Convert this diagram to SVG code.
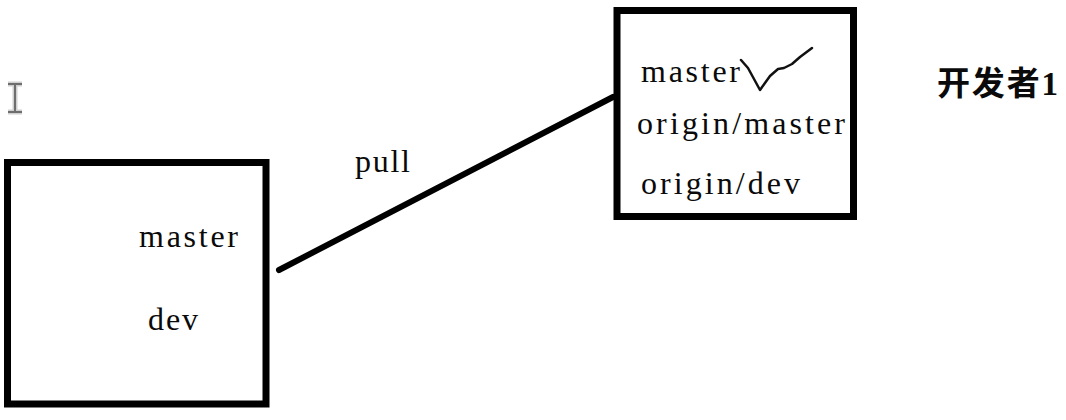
<svg xmlns="http://www.w3.org/2000/svg" width="1066" height="420" viewBox="0 0 1066 420">
  <style>
    .box { fill: #ffffff; stroke: #000000; stroke-width: 7; }
    .lbl { font-family: "Liberation Serif", "Times New Roman", serif; font-size: 32px; fill: #0a0a0a; }
    .cjk { font-family: "Liberation Serif", "Noto Sans CJK SC", serif; font-size: 33px; font-weight: bold; fill: #0a0a0a; }
    .conn { fill: none; stroke: #000000; stroke-width: 6; stroke-linecap: round; }
  </style>
  <rect x="0" y="0" width="1066" height="420" fill="#ffffff"/>

  <g id="cursor" fill="none" stroke-linecap="butt">
    <path d="M8 84 H22 M8 112 H22 M15 84 V112" stroke="#cfcfcf" stroke-width="5"/>
    <path d="M8 84 H22 M8 112 H22 M15 84 V112" stroke="#6e6e6e" stroke-width="2"/>
  </g>

  <g id="connectors">
    <line class="conn" x1="279" y1="270" x2="613" y2="97"/>
    <text class="lbl" x="355" y="172" textLength="55" lengthAdjust="spacing">pull</text>
  </g>

  <g id="local">
    <rect class="box" x="7.5" y="162.5" width="258.5" height="241.5"/>
    <text class="lbl" x="139" y="247" textLength="99" lengthAdjust="spacing">master</text>
    <text class="lbl" x="148" y="330" textLength="50" lengthAdjust="spacing">dev</text>
  </g>

  <g id="developer1">
    <rect class="box" x="617" y="10.5" width="236.5" height="206"/>
    <text class="lbl" x="641" y="82" textLength="99" lengthAdjust="spacing">master</text>
    <text class="lbl" x="637" y="134" textLength="208" lengthAdjust="spacing">origin/master</text>
    <text class="lbl" x="641" y="194" textLength="159" lengthAdjust="spacing">origin/dev</text>
    <path d="M741 60 L748 68 L760 90 L770 76 L778 69 L784 68 L792 64 L800 57 L812 48" fill="none" stroke="#111111" stroke-width="2.5" stroke-linejoin="round" stroke-linecap="round"/>
  </g>

  <g id="label-dev1">
    <text class="cjk" x="937" y="95" textLength="121" lengthAdjust="spacing">开发者1</text>
  </g>
</svg>
